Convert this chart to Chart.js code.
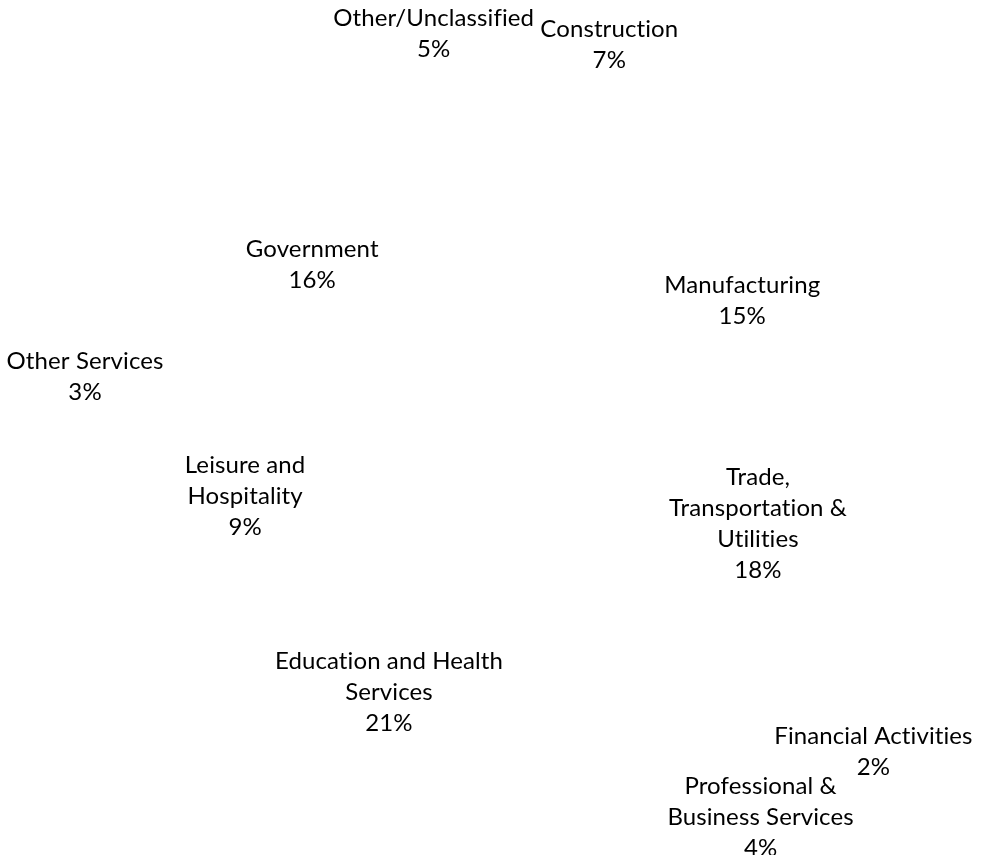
<!DOCTYPE html>
<html>
<head>
<meta charset="utf-8">
<script src="https://cdn.jsdelivr.net/npm/chart.js@4.4.1/dist/chart.umd.min.js"></script>
<style>
  html, body { margin: 0; padding: 0; background: #ffffff; }
  #wrap { width: 1008px; height: 855px; position: relative; }
</style>
</head>
<body>
<div id="wrap"><canvas id="c" width="1008" height="855"></canvas></div>
<script>
// ---- data ----
const categories = [
  "Construction",
  "Manufacturing",
  "Trade,\nTransportation &\nUtilities",
  "Financial Activities",
  "Professional &\nBusiness Services",
  "Education and Health\nServices",
  "Leisure and\nHospitality",
  "Other Services",
  "Government",
  "Other/Unclassified"
];
const shares = [7, 15, 18, 2, 4, 21, 9, 3, 16, 5];

// ---- label placement (relative to each slice's mid angle and the pie radius) ----
const labelRadius     = [1.157, 0.777, 0.773, 1.41, 1.337, 0.832, 0.785, 1.236, 0.744, 1.171];
const labelAngleShift = [2.1, 8.7, -1.2, -16.3, -11.6, 1.1, -1.3, -1.7, -2.9, -1.6];

const FONT = '24px Lato, "Open Sans", sans-serif';
const LINE_H = 31;

const labelPlugin = {
  id: 'pieLabels',
  afterDatasetsDraw(chart) {
    const ctx = chart.ctx;
    const meta = chart.getDatasetMeta(0);
    ctx.save();
    ctx.font = FONT;
    if ('letterSpacing' in ctx) ctx.letterSpacing = '0.1px';
    ctx.fillStyle = '#000000';
    ctx.textAlign = 'center';
    ctx.textBaseline = 'middle';
    meta.data.forEach((arc, i) => {
      const p = arc.getProps(['x', 'y', 'startAngle', 'endAngle', 'outerRadius'], true);
      const mid = (p.startAngle + p.endAngle) / 2 + labelAngleShift[i] * Math.PI / 180;
      const r = p.outerRadius * labelRadius[i];
      const cx = p.x + Math.cos(mid) * r;
      const cy = p.y + Math.sin(mid) * r;
      const lines = categories[i].split('\n').concat([shares[i] + '%']);
      const top = cy - (lines.length - 1) * LINE_H / 2;
      lines.forEach((ln, j) => ctx.fillText(ln, cx, top + j * LINE_H));
    });
    ctx.restore();
  }
};

new Chart(document.getElementById('c'), {
  type: 'pie',
  data: {
    labels: categories,
    datasets: [{
      data: shares,
      backgroundColor: 'rgba(255,255,255,0)',
      borderWidth: 0
    }]
  },
  options: {
    responsive: false,
    animation: false,
    layout: { padding: { left: 163, right: 155, top: 86, bottom: 79 } },
    plugins: {
      legend: { display: false },
      tooltip: { enabled: false }
    }
  },
  plugins: [labelPlugin]
});
</script>
</body>
</html>
